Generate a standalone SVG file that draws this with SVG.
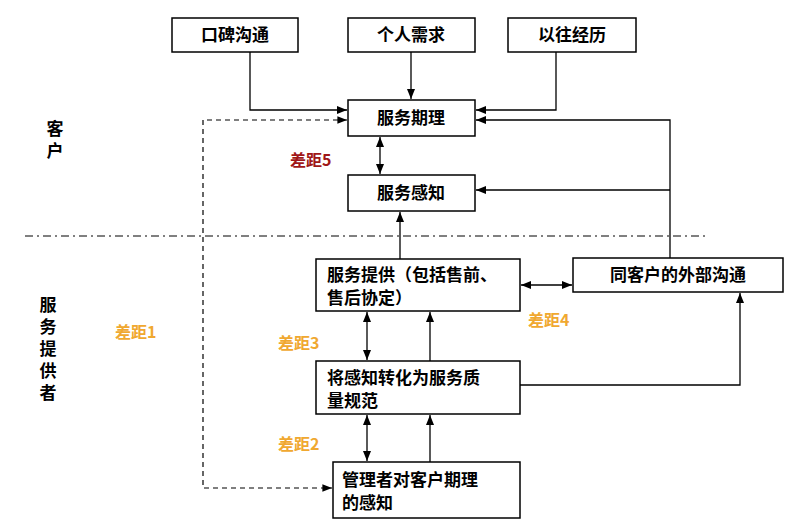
<svg xmlns="http://www.w3.org/2000/svg" width="803" height="526" viewBox="0 0 803 526">
<style>
.b{fill:#fff;stroke:#000;stroke-width:1.5}
.t{font-family:"Noto Sans CJK SC",sans-serif;font-size:17px;font-weight:bold;fill:#000}
.v{writing-mode:vertical-rl;letter-spacing:5px}
.g{font-family:"Noto Sans CJK SC",sans-serif;font-size:16px;font-weight:bold;fill:#f0a830}
.l{fill:none;stroke:#000;stroke-width:1.3}
.d{fill:none;stroke:#000;stroke-width:1.2;stroke-dasharray:5,4}
</style>
<defs>
<marker id="a" viewBox="0 0 10 10" refX="10" refY="5" markerWidth="8" markerHeight="8" orient="auto-start-reverse"><path d="M0,1L10,5L0,9z" fill="#000"/></marker>
</defs>
<rect width="803" height="526" fill="#fff"/>
<line x1="25" y1="236" x2="705" y2="236" stroke="#000" stroke-width="1" stroke-dasharray="8,4,2,4"/>
<text class="t v" x="55" y="120">客户</text>
<text class="t v" x="48" y="296">服务提供者</text>
<text x="290" y="166" class="g" style="fill:#a01818">差距5</text>
<text x="115" y="338" class="g">差距1</text>
<text x="278" y="349" class="g">差距3</text>
<text x="528" y="326" class="g">差距4</text>
<text x="278" y="450" class="g">差距2</text>
<g id="connectors">
<path class="l" d="M250,52V110H347" marker-end="url(#a)"/>
<path class="l" d="M411,52V99" marker-end="url(#a)"/>
<path class="l" d="M556,52V110H476" marker-end="url(#a)"/>
<path class="l" d="M670,258V120H476" marker-end="url(#a)"/>
<path class="l" d="M670,190H476" marker-end="url(#a)"/>
<path class="l" d="M380,137V174" marker-start="url(#a)" marker-end="url(#a)"/>
<path class="l" d="M400,259V212" marker-end="url(#a)"/>
<path class="l" d="M521,285H572" marker-start="url(#a)" marker-end="url(#a)"/>
<path class="l" d="M367,312V360" marker-start="url(#a)" marker-end="url(#a)"/>
<path class="l" d="M430,361V312" marker-end="url(#a)"/>
<path class="l" d="M520,385H740V293" marker-end="url(#a)"/>
<path class="l" d="M367,415V461" marker-start="url(#a)" marker-end="url(#a)"/>
<path class="l" d="M430,462V415" marker-end="url(#a)"/>
<path class="d" d="M347,120H203V488H332" marker-start="url(#a)" marker-end="url(#a)"/>
</g>
<g id="n1"><rect class="b" x="172" y="18" width="126" height="34"/><text class="t" x="235" y="41" text-anchor="middle">口碑沟通</text></g>
<g id="n2"><rect class="b" x="348" y="18" width="127" height="34"/><text class="t" x="411" y="41" text-anchor="middle">个人需求</text></g>
<g id="n3"><rect class="b" x="508" y="18" width="128" height="34"/><text class="t" x="572" y="41" text-anchor="middle">以往经历</text></g>
<g id="n4"><rect class="b" x="348" y="100" width="127" height="36"/><text class="t" x="411" y="124" text-anchor="middle">服务期理</text></g>
<g id="n5"><rect class="b" x="348" y="175" width="127" height="36"/><text class="t" x="411" y="199" text-anchor="middle">服务感知</text></g>
<g id="n6"><rect class="b" x="316" y="259" width="204" height="52"/><text class="t" x="327" y="281">服务提供（包括售前、</text><text class="t" x="327" y="304">售后协定）</text></g>
<g id="n7"><rect class="b" x="573" y="258" width="210" height="34"/><text class="t" x="678" y="281" text-anchor="middle">同客户的外部沟通</text></g>
<g id="n8"><rect class="b" x="316" y="361" width="204" height="53"/><text class="t" x="327" y="384">将感知转化为服务质</text><text class="t" x="327" y="407">量规范</text></g>
<g id="n9"><rect class="b" x="333" y="462" width="187" height="56"/><text class="t" x="342" y="486">管理者对客户期理</text><text class="t" x="342" y="509">的感知</text></g>
</svg>
